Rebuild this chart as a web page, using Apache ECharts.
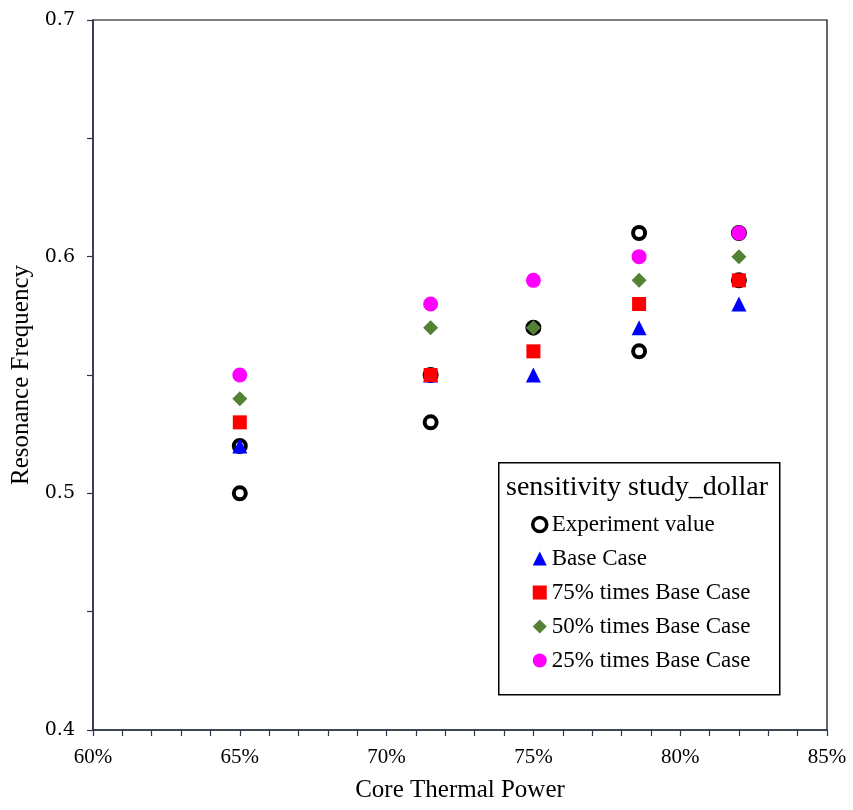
<!DOCTYPE html>
<html><head><meta charset="utf-8">
<script src="https://cdn.jsdelivr.net/npm/echarts@6/dist/echarts.min.js"></script>
<style>html,body{margin:0;padding:0;background:#fff}#c{width:853px;height:810px}</style>
</head><body><div id="c"></div>
<script>
const seriesNames = ['Experiment value','Base Case','75% times Base Case','50% times Base Case','25% times Base Case'];
const xPower = [65, 71.5, 75, 78.6, 82];
const experimentX = [65, 65, 71.5, 71.5, 75, 78.6, 78.6, 82, 82];
const experimentY = [0.52, 0.50, 0.55, 0.53, 0.57, 0.61, 0.56, 0.61, 0.59];
const baseCase = [0.52, 0.55, 0.55, 0.57, 0.58];
const case75 = [0.53, 0.55, 0.56, 0.58, 0.59];
const case50 = [0.54, 0.57, 0.57, 0.59, 0.60];
const case25 = [0.55, 0.58, 0.59, 0.60, 0.61];
const legendTitle = 'sensitivity study_dollar';

const font = 'Liberation Serif';
const axisCol = '#2b3648';
const chart = echarts.init(document.getElementById('c'));
const pair = (xs, ys) => xs.map((x, i) => [x, ys[i]]);
const mk = (name, data, symbol, size, style, z) => ({
  name, type: 'scatter', data, symbol, symbolSize: size,
  itemStyle: Object.assign({opacity: 1}, style), z,
  emphasis: {disabled: true}
});
chart.setOption({
  animation: false,
  grid: {left: 93, right: 26, top: 20, bottom: 80, outerBoundsMode: 'none', containLabel: false,
         show: true, borderColor: '#000', borderWidth: 1.2, backgroundColor: 'transparent'},
  xAxis: {
    type: 'value', min: 60, max: 85, interval: 5,
    name: 'Core Thermal Power', nameLocation: 'middle', nameGap: 48,
    nameTextStyle: {fontFamily: font, fontSize: 25, color: '#000'},
    axisLine: {lineStyle: {color: axisCol, width: 1.5}},
    axisTick: {show: true, length: 6, lineStyle: {color: axisCol, width: 1.2}},
    minorTick: {show: true, splitNumber: 5, length: 6, lineStyle: {color: axisCol, width: 1.2}},
    splitLine: {show: false},
    axisLabel: {fontFamily: font, fontSize: 21, color: '#000', margin: 17, formatter: v => v + '%'}
  },
  yAxis: {
    type: 'value', min: 0.4, max: 0.7, interval: 0.1,
    name: 'Resonance Frequency', nameLocation: 'middle', nameGap: 51, nameRotate: 90,
    nameTextStyle: {fontFamily: font, fontSize: 25, color: '#000'},
    axisLine: {lineStyle: {color: axisCol, width: 1.5}},
    axisTick: {show: true, length: 6, lineStyle: {color: axisCol, width: 1.2}},
    minorTick: {show: true, splitNumber: 2, length: 6, lineStyle: {color: axisCol, width: 1.2}},
    splitLine: {show: false},
    axisLabel: {fontFamily: 'DejaVu Serif', fontSize: 19, color: '#000', margin: 18, formatter: v => v.toFixed(1)}
  },
  legend: {
    orient: 'vertical', left: 531, top: 513, padding: 0, itemGap: 11, itemWidth: 14, itemHeight: 14,
    textStyle: {fontFamily: font, fontSize: 23, color: '#000'},
    data: [
      {name: seriesNames[0], itemStyle: {color: '#fff', borderColor: '#000', borderWidth: 3.5}},
      seriesNames[1], seriesNames[2], seriesNames[3], seriesNames[4]
    ]
  },
  graphic: [
    {type: 'rect', left: 498, top: 462, z: 0, shape: {width: 281, height: 232}, style: {fill: '#fff', stroke: '#000', lineWidth: 1.5}},
    {type: 'text', left: 506, top: 474, z: 1, style: {text: legendTitle, font: '28px "Liberation Serif"', fill: '#000'}}
  ],
  series: [
    mk(seriesNames[0], pair(experimentX, experimentY), 'circle', 12, {color: '#fff', borderColor: '#000', borderWidth: 4}, 2),
    mk(seriesNames[1], pair(xPower, baseCase), 'triangle', 15, {color: '#0000ff'}, 3),
    mk(seriesNames[2], pair(xPower, case75), 'rect', 14, {color: '#ff0000'}, 4),
    mk(seriesNames[3], pair(xPower, case50), 'diamond', 15, {color: '#548235'}, 5),
    mk(seriesNames[4], pair(xPower, case25), 'circle', 15, {color: '#ff00ff'}, 6)
  ]
});
</script></body></html>
